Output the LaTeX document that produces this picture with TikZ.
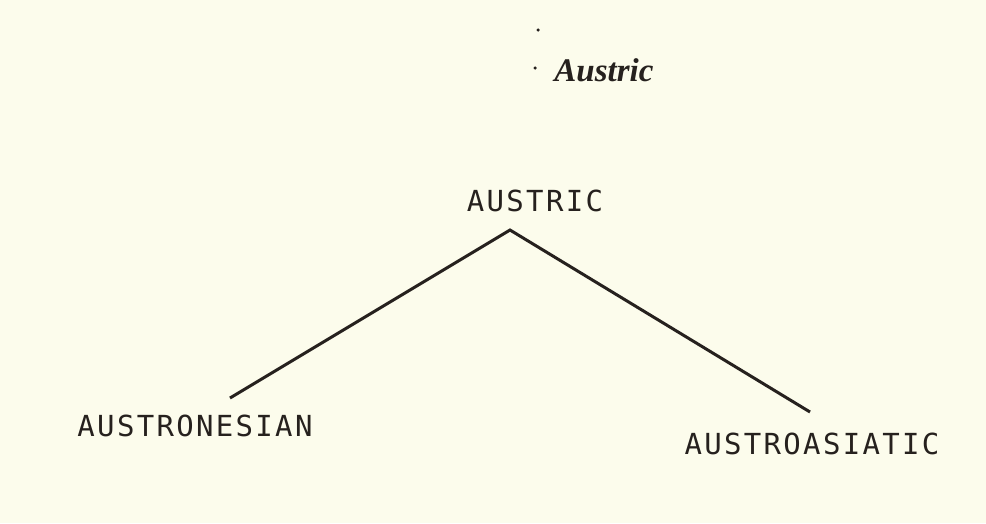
\documentclass[tikz,border=0pt]{standalone}
\usepackage{fontspec}
\setmainfont{Liberation Serif}
\newfontfamily\plotterfont[LetterSpace=8]{DejaVu Sans Mono}
\usepackage{tikz}
\usetikzlibrary{positioning}
\definecolor{paper}{RGB}{252,252,236}
\definecolor{ink}{RGB}{38,33,30}

\begin{document}
\begin{tikzpicture}[x=1pt,y=-1pt,
  title/.style={font=\fontsize{33}{33}\selectfont\bfseries\itshape, text=ink, inner sep=0pt},
  lang/.style={font=\plotterfont\fontsize{29}{29}\selectfont, text=ink, inner sep=0pt},
  branch/.style={ink, line width=3pt},
  speck/.style={fill=ink, circle, inner sep=0pt, minimum size=3.5pt},
  every node/.style={align=center}]

% Page and its margins
\fill[paper] (0,0) rectangle (986,523);
\useasboundingbox (0,0) rectangle (986,523);

% Heading with the specks beside it
\node[title] (heading) at (604,70) {Austric};
\node[speck] (speckA) at (538,30) {};
\node[speck] (speckB) at (535,68) {};

% The family and its two branches
\node[lang] (austric) at (535,201) {AUSTRIC};
\node[lang] (austronesian) at (195,426) {AUSTRONESIAN};
\node[lang] (austroasiatic) at (812,444) {AUSTROASIATIC};

\coordinate (apex) at (510,230);
\coordinate (leftEnd) at (230,398);
\coordinate (rightEnd) at (810,412);

% Draw the branches
\draw[branch] (leftEnd) -- (apex) -- (rightEnd);

\end{tikzpicture}
\end{document}
